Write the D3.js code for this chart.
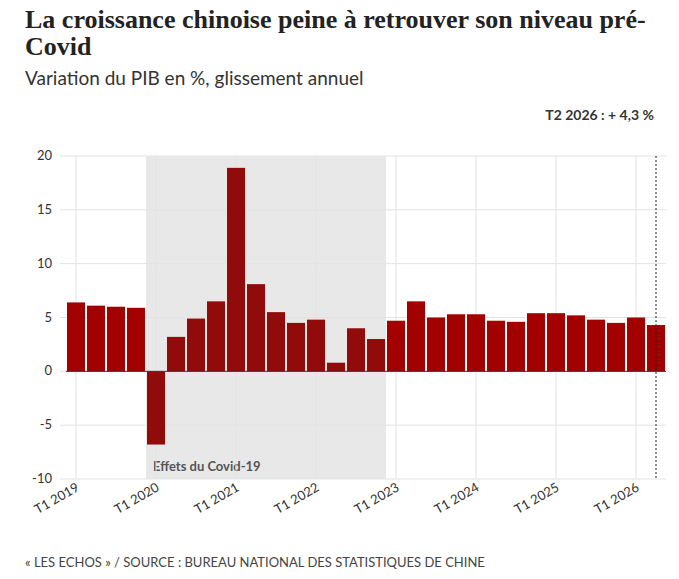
<!DOCTYPE html>
<html><head><meta charset="utf-8">
<script src="https://cdn.jsdelivr.net/npm/d3@7"></script>
<style>body{margin:0;background:#fff;font-family:Lato,sans-serif}</style>
</head><body>
<script>
var quarters = [];
[2019,2020,2021,2022,2023,2024,2025,2026].forEach(function (y) {
    for (var q = 1; q <= 4; q++) if (!(y == 2026 && q > 2)) quarters.push("T" + q + " " + y);
});
var values = [6.4,6.1,6.0,5.9, -6.8,3.2,4.9,6.5, 18.9,8.1,5.5,4.5, 4.8,0.8,4.0,3.0,
              4.7,6.5,5.0,5.3, 5.3,4.7,4.6,5.4, 5.4,5.2,4.8,4.5, 5.0,4.3];
var yTicks = [-10,-5,0,5,10,15,20];
var xTicks = ["T1 2019","T1 2020","T1 2021","T1 2022","T1 2023","T1 2024","T1 2025","T1 2026"];
var covidStart = "T1 2020", covidEnd = "T4 2022";

var svg = d3.select("body").append("svg").attr("width", 679).attr("height", 579);

svg.append("text").attr("x", 25).attr("y", 28).attr("font-family", "Liberation Serif, serif")
    .attr("font-weight", "bold").attr("font-size", 26).attr("fill", "#222")
    .text("La croissance chinoise peine à retrouver son niveau pré-");
svg.append("text").attr("x", 25).attr("y", 55).attr("font-family", "Liberation Serif, serif")
    .attr("font-weight", "bold").attr("font-size", 26).attr("fill", "#222").text("Covid");
svg.append("text").attr("x", 25).attr("y", 85).attr("font-size", 19).attr("fill", "#333")
    .text("Variation du PIB en %, glissement annuel");

var x = d3.scaleBand().domain(quarters).range([66, 666]).paddingInner(0.1).paddingOuter(0.05);
var y = d3.scaleLinear().domain([-10, 20]).range([479, 156]);

// covid shading
var step = x.step();
svg.append("rect").attr("x", x(covidStart) - step * 0.05).attr("y", y(20))
    .attr("width", x(covidEnd) + x.bandwidth() + step * 0.05 - (x(covidStart) - step * 0.05))
    .attr("height", y(-10) - y(20)).attr("fill", "#e8e8e8");
svg.append("text").attr("x", x(covidStart) + 6).attr("y", 471).attr("font-size", 13)
    .attr("font-weight", "bold").attr("fill", "#555").text("Effets du Covid-19");

// grid
svg.selectAll(".hg").data(yTicks).enter().append("line")
    .attr("x1", 60).attr("x2", 666).attr("y1", function (d) { return y(d); }).attr("y2", function (d) { return y(d); })
    .attr("stroke", "#e3e3e3");
svg.selectAll(".vg").data(xTicks).enter().append("line")
    .attr("x1", function (d) { return x(d) + x.bandwidth() / 2; }).attr("x2", function (d) { return x(d) + x.bandwidth() / 2; })
    .attr("y1", y(20)).attr("y2", y(-10)).attr("stroke", "#e3e3e3");

svg.selectAll(".yl").data(yTicks).enter().append("text")
    .attr("x", 52).attr("y", function (d) { return y(d) + 4; }).attr("text-anchor", "end")
    .attr("font-size", 13).attr("fill", "#333").text(function (d) { return d; });

// bars
svg.selectAll(".bar").data(values).enter().append("rect")
    .attr("x", function (d, i) { return x(quarters[i]); })
    .attr("width", x.bandwidth())
    .attr("y", function (d) { return y(Math.max(0, d)); })
    .attr("height", function (d) { return Math.abs(y(d) - y(0)); })
    .attr("fill", function (d, i) { return (i >= 4 && i <= 15) ? "#920b0b" : "#a30000"; });

svg.append("line").attr("x1", 66).attr("x2", 666).attr("y1", y(0)).attr("y2", y(0)).attr("stroke", "#333");

svg.selectAll(".xl").data(xTicks).enter().append("text")
    .attr("transform", function (d) { return "translate(" + (x(d) + x.bandwidth() / 2 + 4) + ",490) rotate(-30)"; })
    .attr("text-anchor", "end").attr("font-size", 13).attr("fill", "#333").text(function (d) { return d; });

// last value marker
var lx = x(quarters[quarters.length - 1]) + x.bandwidth() / 2;
svg.append("line").attr("x1", lx).attr("x2", lx).attr("y1", y(20)).attr("y2", y(-10))
    .attr("stroke", "#222").attr("stroke-dasharray", "2,2");
svg.append("text").attr("x", 654).attr("y", 120).attr("text-anchor", "end").attr("font-size", 14)
    .attr("font-weight", "bold").attr("fill", "#333").text("T2 2026 : + 4,3 %");

svg.append("text").attr("x", 25).attr("y", 567).attr("font-size", 13).attr("fill", "#444")
    .text("« LES ECHOS » / SOURCE : BUREAU NATIONAL DES STATISTIQUES DE CHINE");
</script>
</body></html>
